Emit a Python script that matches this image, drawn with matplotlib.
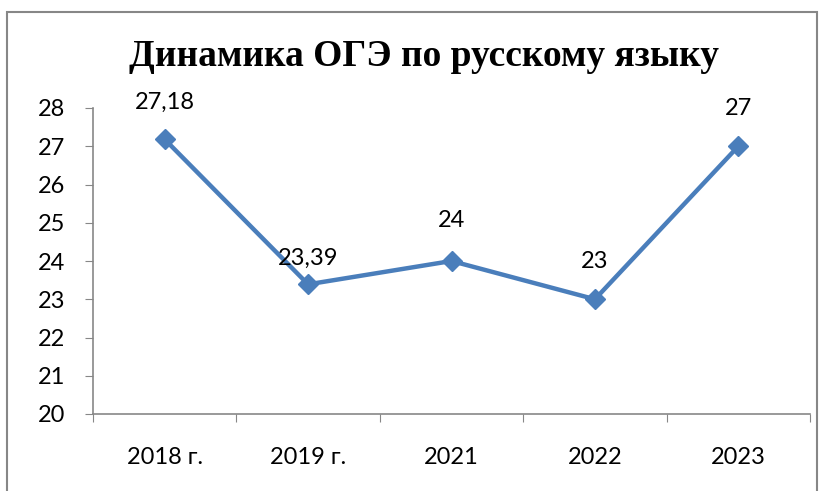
import matplotlib
matplotlib.use("Agg")
import matplotlib.pyplot as plt
from matplotlib.patches import Rectangle

years = ["2018 г.", "2019 г.", "2021", "2022", "2023"]
scores = [27.18, 23.39, 24, 23, 27]
labels = ["27,18", "23,39", "24", "23", "27"]
yticks = [20, 21, 22, 23, 24, 25, 26, 27, 28]

FONT = ["Lato", "DejaVu Sans"]
W, H = 825, 491
fig = plt.figure(figsize=(W / 100, H / 100), dpi=100)
ax = fig.add_axes([93 / W, 1 - 414 / H, (810 - 93) / W, (414 - 108) / H])

# frame round the whole chart
fig.patches.append(Rectangle((7 / W, -0.1), (817 - 7) / W, 1.1 - 12 / H,
                             transform=fig.transFigure, fill=False,
                             edgecolor="#878787", linewidth=1.5))

x = list(range(len(years)))
ax.plot(x, scores, color="#4A7EBB", linewidth=3.2, marker="D",
        markersize=10, markerfacecolor="#4A7EBB", markeredgecolor="#4A7EBB")

# 23,39 sits a little lower, next to the line
offsets = [27, 19, 29, 27, 27]
for xi, yi, lab, off in zip(x, scores, labels, offsets):
    ax.annotate(lab, (xi, yi), xytext=(0, off), textcoords="offset points",
                ha="center", va="center", fontsize=17, family=FONT)

ax.set_xlim(-0.5, len(years) - 0.5)
ax.set_ylim(20, 28)
ax.set_yticks(yticks)
ax.set_xticks([i - 0.5 for i in range(len(years) + 1)], minor=False)
ax.set_xticklabels([])
ax.set_xticks(x, minor=True)
ax.set_xticklabels(years, minor=True)
ax.tick_params(axis="x", which="major", length=6, color="#878787", direction="out")
ax.tick_params(axis="x", which="minor", length=0, pad=24, labelsize=17)
ax.tick_params(axis="y", length=6, color="#878787", direction="out", labelsize=17, pad=14)
for t in ax.get_xticklabels(minor=True) + ax.get_yticklabels():
    t.set_family(FONT)

for side in ["top", "right"]:
    ax.spines[side].set_visible(False)
for side in ["left", "bottom"]:
    ax.spines[side].set_color("#878787")
    ax.spines[side].set_linewidth(1.2)

fig.text(424 / W, 1 - 57 / H, "Динамика ОГЭ по русскому языку", ha="center",
         va="center", fontsize=27, fontweight="bold",
         family=["Liberation Serif", "DejaVu Serif"])

fig.savefig("out.png", dpi=100)
